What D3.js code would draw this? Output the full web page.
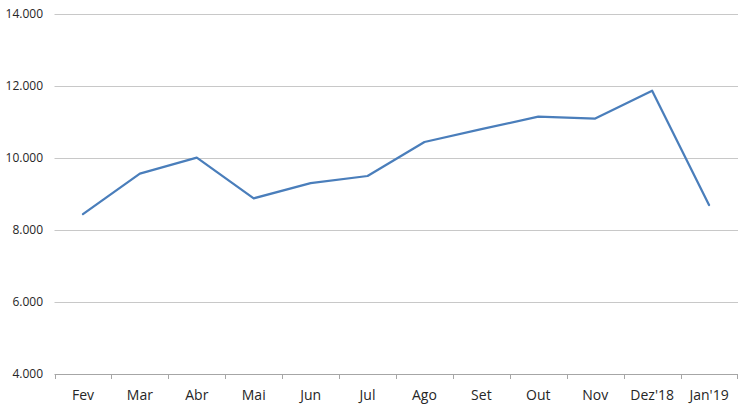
<!DOCTYPE html>
<html>
<head>
<meta charset="utf-8">
<script src="https://cdn.jsdelivr.net/npm/d3@7"></script>
<style>
  html, body { margin: 0; padding: 0; background: #fff; }
  svg { display: block; }
  text { font-family: "Open Sans", "Noto Sans", sans-serif; fill: #262626; }
</style>
</head>
<body>
<script>
const categories = ["Fev", "Mar", "Abr", "Mai", "Jun", "Jul", "Ago", "Set", "Out", "Nov", "Dez'18", "Jan'19"];
const values = [8440, 9565, 10010, 8880, 9300, 9500, 10445, 10800, 11150, 11095, 11870, 8695];
const yTicks = [4000, 6000, 8000, 10000, 12000, 14000];

const W = 750, H = 412;
const svg = d3.select("body").append("svg").attr("width", W).attr("height", H);

const x = d3.scaleBand().domain(categories).range([54.5, 737.5]);
const y = d3.scaleLinear().domain([4000, 14000]).range([374, 14]);

const fmt = v => d3.format(",.3f")(v / 1000).replace(/,/g, "");

// gridlines
svg.append("g").selectAll("line").data(yTicks.filter(d => d !== 4000)).join("line")
  .attr("x1", 54.5).attr("x2", 738)
  .attr("y1", d => Math.round(y(d)) + 0.5).attr("y2", d => Math.round(y(d)) + 0.5)
  .attr("stroke", "#c8c8c8").attr("stroke-width", 1);

// y labels
svg.append("g").selectAll("text").data(yTicks).join("text")
  .attr("x", 43).attr("y", d => y(d)).attr("dy", "0.35em")
  .attr("text-anchor", "end").attr("font-size", 12)
  .text(d => d3.format(",")(d).replace(/,/g, "."));

// x axis
const xAxis = d3.axisBottom(x).tickSize(0).tickPadding(0);
const gx = svg.append("g").attr("transform", "translate(0,374.5)").call(xAxis);
gx.select(".domain").attr("stroke", "#a6a6a6").attr("d", "M54.5,0H738");
gx.selectAll(".tick text").attr("y", 21).attr("dy", "0.35em").attr("font-size", 14)
  .attr("fill", "#262626").attr("font-family", "\"Open Sans\", \"Noto Sans\", sans-serif");
// category boundary ticks
const bounds = categories.map(c => x(c)).concat([x(categories[categories.length - 1]) + x.bandwidth()]);
svg.append("g").selectAll("line").data(bounds).join("line")
  .attr("x1", d => Math.round(d) + 0.5).attr("x2", d => Math.round(d) + 0.5)
  .attr("y1", 374).attr("y2", 379)
  .attr("stroke", "#a6a6a6");

// line
const line = d3.line()
  .x((d, i) => x(categories[i]) + x.bandwidth() / 2)
  .y(d => y(d));
svg.append("path").datum(values)
  .attr("d", line)
  .attr("fill", "none").attr("stroke", "#4a7ebb").attr("stroke-width", 2.25)
  .attr("stroke-linejoin", "round").attr("stroke-linecap", "round");
</script>
</body>
</html>
